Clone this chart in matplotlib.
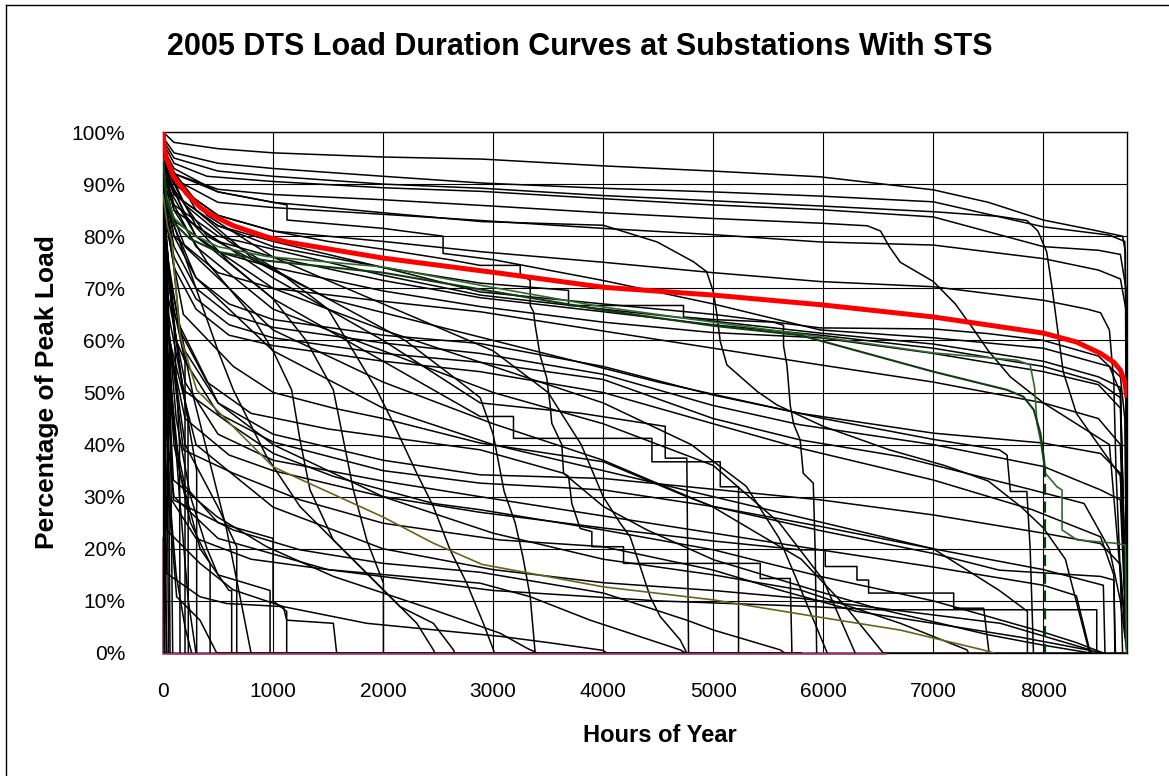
import matplotlib
matplotlib.use("Agg")
import matplotlib.pyplot as plt
from matplotlib.lines import Line2D

plt.rcParams['font.family'] = ['Liberation Sans', 'DejaVu Sans']

# ---------------- data (hours of year, % of peak load) ----------------
title_text = "2005 DTS Load Duration Curves at Substations With STS"
x_label = "Hours of Year"
y_label = "Percentage of Peak Load"
x_ticks = [0, 1000, 2000, 3000, 4000, 5000, 6000, 7000, 8000]
y_ticks = [0, 10, 20, 30, 40, 50, 60, 70, 80, 90, 100]
hours_in_year = 8760

# highlighted (average) curve
red_curve = [(0, 100), (10, 97.5), (30, 95), (94, 91.5), (215, 88.2), (340, 85.5), (430, 84.2),
             (640, 82), (950, 79.8), (1124, 78.9), (2000, 75.8), (3060, 72.9), (4000, 70.2),
             (5000, 68.7), (6000, 66.8), (7000, 64.5), (8000, 61.4), (8300, 59.7), (8520, 57.5),
             (8640, 55.8), (8700, 54.3), (8740, 52), (8760, 49)]

green_curve_1 = [(0, 95), (30, 88), (100, 83.5), (245, 80.6), (500, 78), (943, 76.1), (2000, 74.1),
                 (2882, 70.6), (4003, 66.4), (5003, 63.5), (5973, 60.7), (7000, 57.6), (7760, 56.2),
                 (7880, 55.3), (7920, 51), (7942, 44.1), (7973, 40.9), (8018, 34.5), (8124, 31.9),
                 (8170, 31.3), (8170, 23.6), (8215, 23), (8306, 21.7), (8640, 21.1), (8745, 20.7),
                 (8755, 0)]
green_curve_2 = [(0, 94), (30, 87), (100, 82.5), (245, 79.5), (500, 77), (943, 75.3), (2000, 73),
                 (2882, 69.8), (4003, 65.8), (5003, 62.8), (5790, 61), (7000, 54), (7670, 50.5),
                 (7818, 49.2), (7912, 46.7), (7973, 42.2), (8003, 37.7), (8012, 35.8)]
green_curve_2_tail = [(8012, 35.8), (8012, 0)]

olive_curve = [(0, 88), (40, 82), (80, 79), (155, 61), (306, 50.5), (640, 43.4), (1003, 35.7),
               (2000, 26.1), (2455, 21.1), (2900, 17), (4000, 12.7), (5000, 10.2), (5900, 7.1),
               (6700, 4.4), (7450, 0.6), (7550, 0)]

pink_curve = [(0, 22), (0, 0), (6560, 0)]
blue_dashed_curve = [(12, 84), (12, 0)]

# substation curves (black)
c01 = [(0, 100), (100, 98), (500, 96.8), (1000, 96), (2000, 95.2), (2900, 94.8), (4000, 93.5),
       (5000, 92.5), (5970, 91.4), (7000, 88.9), (7500, 86.5), (8000, 83.1), (8450, 81.2),
       (8720, 80), (8745, 77), (8760, 0)]
c02 = [(0, 99), (100, 96), (500, 94), (1000, 93), (2000, 91.5), (2900, 90.2), (4000, 89.2),
       (5000, 88.5), (5970, 87.7), (7000, 86.6), (8000, 81.8), (8600, 80.2), (8740, 79),
       (8755, 60), (8760, 0)]
c03 = [(0, 98.5), (100, 95), (500, 92.5), (1000, 91.5), (2000, 90), (2900, 89.2), (4000, 87.8),
       (5000, 86.8), (5970, 85.8), (7000, 84.7), (7600, 83.8), (7850, 83), (7950, 81),
       (8030, 77), (8080, 70), (8130, 62), (8180, 54), (8300, 46), (8500, 40), (8700, 34),
       (8760, 0)]
c04 = [(0, 98), (100, 94), (400, 91.5), (1000, 90.5), (2000, 89.3), (2900, 88.6), (4000, 87.2),
       (5000, 86), (5970, 85.1), (7000, 83.7), (8000, 78), (8500, 77.3), (8700, 76.5),
       (8750, 70), (8760, 0)]
c05 = [(0, 97), (100, 92), (500, 89), (1000, 88), (2000, 87), (2900, 85.9), (4000, 84.5),
       (5000, 83.4), (5970, 82.5), (6400, 82), (6520, 81), (6600, 78), (6700, 75), (7000, 71.3),
       (7200, 67), (7370, 62), (7500, 58), (7700, 53), (8000, 48), (8300, 44), (8600, 40),
       (8760, 0)]
c06 = [(0, 96.5), (100, 91), (500, 86.5), (1000, 85.5), (2000, 84.2), (2900, 83), (4000, 81.5),
       (5000, 80.3), (5970, 78.9), (7000, 78.3), (8000, 75.7), (8500, 73.5), (8700, 71.8),
       (8750, 66), (8760, 0)]
c07 = [(0, 97), (100, 93), (500, 88.5), (1000, 86.5), (2000, 84.5), (2900, 82.8), (4000, 82.1),
       (4490, 78.9), (4820, 75.1), (4940, 73.2), (5000, 69.4), (5030, 65.5), (5064, 59.8),
       (5124, 55.3), (5400, 50.2), (5580, 47.6), (6000, 43.5), (6600, 39), (7100, 36),
       (7500, 33), (7800, 28), (8000, 24), (8200, 18), (8420, 0)]
c08 = [(0, 95), (100, 90), (500, 84), (1000, 81), (2000, 79), (2900, 77), (4000, 75), (5000, 73),
       (5970, 71.3), (7000, 70.3), (8000, 67.7), (8400, 66), (8520, 65.3), (8600, 62),
       (8640, 52), (8660, 35), (8700, 15), (8720, 0)]
c09 = [(0, 96), (100, 90), (500, 84), (1000, 81), (1500, 79), (2000, 77.5), (2600, 75.5),
       (2882, 74.4), (3246, 74.4), (3246, 72.8), (3337, 71.5), (3337, 66.7), (3367, 65.5),
       (3382, 62.9), (3427, 57.1), (3488, 52.7), (3518, 47.5), (3533, 44.1), (3624, 40),
       (3640, 34.5), (3685, 33.9), (3715, 28.7), (3791, 23.9), (3897, 23.3), (3897, 20.4),
       (4185, 20.4), (4185, 17.2), (5427, 17.2), (5427, 14.3), (5700, 14.3), (5715, 0)]
c10 = [(0, 93), (100, 88), (500, 82), (1000, 78), (2000, 74), (2882, 71), (3685, 69.6),
       (3685, 66.7), (4730, 66.7), (4730, 64.5), (5000, 64), (5548, 63.5), (5639, 62.9),
       (5639, 59), (5670, 55.2), (5700, 47.5), (5730, 44), (5790, 40.9), (5818, 34.5),
       (5909, 32.6), (5927, 19.2), (5940, 0)]
c11 = [(0, 95), (100, 88), (500, 82), (1000, 79), (2000, 74), (2882, 69.3), (4000, 67),
       (5000, 65), (5973, 62.4), (7000, 62.2), (7500, 61.3), (8000, 60), (8500, 57),
       (8700, 53), (8740, 45), (8760, 0)]
c12 = [(0, 94), (100, 86), (500, 80), (1000, 77.5), (2000, 72.5), (2882, 68.7), (4000, 66),
       (5000, 63.7), (5973, 61.4), (7000, 59.3), (8000, 56), (8500, 53), (8700, 51), (8760, 0)]
c13 = [(0, 93), (100, 85), (500, 79), (1000, 76), (2000, 71.5), (2882, 68.2), (4000, 65.5),
       (5000, 63), (5973, 61), (7000, 58.5), (8000, 55), (8500, 52), (8700, 49), (8760, 0)]
c14 = [(0, 92), (100, 83), (500, 77), (1000, 74), (2000, 69.5), (2882, 66.5), (4000, 63.5),
       (5000, 61.5), (5973, 60.5), (7000, 57.5), (8000, 54), (8500, 51.5), (8700, 47), (8760, 0)]
c15 = [(0, 91), (100, 80), (500, 73), (1000, 70), (2000, 67.5), (2882, 65.5), (4000, 61.8),
       (5000, 58.5), (5973, 55.3), (7000, 52), (8000, 48), (8500, 45), (8700, 40), (8760, 0)]
c16 = [(0, 90), (100, 80), (300, 72), (600, 67), (1000, 64), (2000, 61), (2882, 59.4),
       (4000, 55), (5000, 49.5), (5791, 46), (7000, 42.2), (8000, 40.3), (8520, 38.3),
       (8700, 34.5), (8760, 0)]
c17 = [(0, 89), (100, 78), (300, 70), (600, 65), (1000, 62.5), (2000, 59.5), (2882, 57.5),
       (4000, 53.5), (5000, 47.5), (5791, 43.8), (7000, 40), (8000, 35.8), (8520, 31.3),
       (8700, 29.4), (8760, 0)]
c18 = [(0, 88), (100, 76), (300, 68), (600, 63), (1000, 60.5), (2000, 57.5), (2882, 55.8),
       (4000, 52.5), (5000, 45), (5791, 40.9), (6700, 37.7), (7300, 34.5), (7900, 31.3),
       (8370, 28.7), (8600, 20), (8700, 10), (8760, 0)]
c19 = [(0, 87), (100, 74), (300, 66), (600, 61), (1000, 59), (2000, 56), (2882, 54),
       (4000, 50), (5000, 44), (5791, 39.3), (7000, 33.2), (7900, 27.5), (8520, 22.3),
       (8640, 15), (8650, 0)]
c20 = [(0, 96), (100, 92), (500, 88.5), (1127, 86), (1127, 83.1), (2000, 81.5), (2545, 80),
       (2545, 76.7), (3000, 75.5), (4000, 71.5), (5000, 67), (5973, 62), (7000, 60.5),
       (8000, 58.5), (8600, 55), (8700, 50), (8760, 0)]
d01 = [(0, 90), (50, 80), (185, 65), (639, 55), (1003, 50), (1548, 47), (2003, 45),
       (2882, 40.3), (4003, 36.7), (4760, 30), (5003, 28.1), (5973, 23.5), (7000, 19.1),
       (7600, 15.9), (8520, 14.7), (8640, 14), (8655, 0)]
d02 = [(0, 88), (50, 75), (150, 62), (400, 52), (800, 46), (1500, 43), (2882, 39), (3640, 34.5),
       (4003, 28.1), (4400, 23.6), (5003, 17.9), (5912, 12.1), (6500, 8.5), (7000, 6),
       (7500, 3.5), (8000, 1.5), (8427, 0)]
d03 = [(0, 86), (60, 72), (200, 58), (500, 48), (1000, 42), (2000, 37), (2882, 34.2),
       (4003, 33.5), (5973, 29.4), (7000, 26.5), (8000, 23), (8520, 21), (8700, 17), (8760, 0)]
d04 = [(0, 85), (60, 70), (200, 56), (500, 46), (1000, 40.5), (2000, 35), (2882, 32.6),
       (4003, 31.3), (5003, 28.1), (5973, 24.3), (7000, 20), (8000, 16), (8545, 13), (8560, 0)]
d05 = [(0, 84), (50, 68), (200, 52), (500, 42), (1000, 37), (2000, 33), (2882, 30),
       (5973, 19.8), (7000, 16.5), (8000, 13), (8300, 11), (8427, 0)]
d06 = [(0, 82), (50, 65), (185, 50.5), (639, 43.5), (1003, 38.3), (1548, 33.9), (2003, 31.3),
       (2457, 28.7), (2882, 27.5), (4003, 23.6), (5003, 19.8), (5973, 14.7), (7000, 10),
       (7500, 7), (8000, 4), (8300, 2), (8545, 0)]
d07 = [(0, 81), (50, 62), (185, 39), (639, 34.5), (1245, 29.4), (2003, 24.9), (3063, 21.7),
       (4003, 20.4), (5003, 15.9), (5600, 12.1), (6300, 8), (7000, 5.7), (7800, 3), (8550, 0)]
d08 = [(0, 80), (30, 60), (94, 33.2), (488, 26.2), (942, 20.4), (1548, 14.7), (2457, 8.3),
       (3063, 3.8), (3300, 1), (3400, 0)]
d09 = [(0, 79), (30, 55), (94, 29.4), (639, 23.6), (1245, 19.8), (2003, 17.2), (2882, 15.5),
       (4003, 11.5), (4760, 6.3), (5003, 4.4), (5609, 0.6), (5650, 0)]
d10 = [(0, 75), (15, 50), (33, 23.6), (336, 17.2), (639, 12.1), (1094, 8.9), (1851, 5.7),
       (3063, 3.2), (3500, 2), (4000, 0.5), (4033, 0)]
d11 = [(0, 78), (20, 50), (60, 30), (300, 22), (800, 18), (1500, 16), (2882, 13.4),
       (3337, 10.8), (3882, 6.3), (4700, 0.6), (4750, 0)]
d12 = [(0, 70), (10, 40), (33, 15.3), (336, 10.8), (578, 9.5), (1094, 8.9), (1124, 6.3),
       (1548, 5.7), (1578, 0)]
d13 = [(0, 72), (10, 40), (124, 10.8), (336, 6.3), (488, 0), (5800, 0)]
d14 = [(0, 92), (100, 82), (300, 70), (500, 58), (639, 50.5), (790, 44.1), (942, 37.7),
       (1245, 28.1), (1548, 21.7), (2003, 12.1), (2306, 5.7), (2457, 0.6), (2470, 0)]
d15 = [(0, 93), (100, 85), (400, 75), (800, 65), (1000, 58), (1169, 50.5), (1245, 40.9),
       (1336, 31.3), (1548, 21.7), (1851, 15.3), (2154, 8.9), (2457, 5.7), (2639, 0.6), (2650, 0)]
d16 = [(0, 94), (200, 84), (600, 75), (1000, 68), (1300, 60), (1548, 50.5), (1609, 44.1),
       (1730, 31.3), (1851, 21.7), (2003, 13.4), (2003, 0)]
d17 = [(0, 95), (200, 86), (600, 79), (1000, 74), (1500, 66), (1942, 50.5), (2093, 44.1),
       (2306, 34.5), (2457, 28.1), (2609, 19.8), (2760, 13.4), (2911, 5.7), (3003, 0.6), (3010, 0)]
d18 = [(0, 96), (300, 85), (800, 76), (1500, 68), (2200, 60), (2700, 52), (2882, 49),
       (3000, 42), (3100, 31), (3200, 25), (3270, 18.5), (3337, 10.8), (3382, 0)]
d19 = [(0, 95), (400, 84), (1000, 76), (2000, 67), (3000, 58), (3500, 50), (3800, 40),
       (4000, 30), (4155, 24.9), (4245, 22.3), (4336, 16.6), (4427, 10.8), (4518, 7),
       (4700, 2.5), (4760, 0)]
d20 = [(0, 94), (300, 82), (1000, 72), (2000, 60), (2882, 48), (3800, 46), (4564, 43.5),
       (4564, 37.4), (4760, 37.4), (4776, 0)]
d21 = [(0, 93), (300, 80), (1000, 68), (2000, 56), (2882, 45.4), (3185, 45.4), (3185, 41.2),
       (4443, 41.2), (4443, 36.7), (5064, 36.7), (5064, 31.9), (5230, 31.9), (5230, 0)]
d22 = [(0, 80), (50, 60), (200, 45), (600, 38), (1000, 35), (2000, 30), (2882, 27), (4000, 24),
       (5000, 21.5), (5791, 19.8), (6018, 19.8), (6018, 16.6), (6306, 16.6), (6306, 14),
       (6412, 14), (6412, 11.5), (7185, 11.5), (7185, 8.6), (7458, 8.6), (7503, 0.6), (7510, 0)]
d23 = [(0, 91), (300, 80), (1000, 70), (2000, 62), (3000, 55), (4000, 48), (4800, 40),
       (5300, 32), (5600, 22), (5800, 12), (6036, 0)]
d24 = [(0, 90), (300, 78), (1000, 66), (2000, 58), (3000, 50), (4000, 44), (5000, 36),
       (5600, 25), (6000, 14), (6290, 0)]
d25 = [(0, 89), (200, 78), (1000, 62), (2000, 52), (3000, 44), (4000, 37), (5000, 28),
       (5800, 18), (6200, 9), (6545, 0), (8760, 0)]
d26 = [(0, 85), (100, 65), (500, 48), (1000, 40), (2000, 30), (3000, 23), (4000, 18),
       (5000, 15), (5791, 12.1), (6700, 5.7), (7306, 0.6), (7320, 0)]
d27 = [(0, 87), (300, 72), (1000, 58), (2000, 47), (3000, 40), (4000, 35), (5000, 30),
       (6000, 25), (7000, 20), (7600, 12), (7855, 8), (7855, 0)]
d28 = [(0, 83), (60, 60), (300, 40), (1000, 28), (2000, 20), (3000, 16), (4000, 13.5),
       (5000, 12), (5791, 10.5), (7609, 5.7), (8427, 0.6), (8440, 0)]
d29 = [(0, 75), (20, 45), (100, 30), (500, 22), (1500, 16), (3000, 12), (4500, 10),
       (5800, 9), (6500, 8.3), (8485, 8.3), (8485, 0)]
d30 = [(0, 92), (400, 80), (1500, 68), (3000, 60), (4500, 52), (6000, 45), (7000, 41),
       (7600, 39), (7670, 38), (7700, 31), (7850, 31), (7880, 20), (7910, 0)]
v01 = [(0, 97), (5, 60), (10, 20), (15, 0)]
v02 = [(0, 95), (10, 70), (20, 40), (30, 0)]
v03 = [(0, 93), (15, 75), (35, 50), (50, 0)]
v04 = [(0, 92), (20, 78), (45, 55), (64, 0)]
v05 = [(0, 90), (25, 80), (60, 60), (88, 0)]
v06 = [(0, 91), (40, 75), (100, 62), (150, 40), (155, 0)]
v07 = [(0, 89), (50, 74), (120, 60), (200, 56), (200, 0)]
v08 = [(0, 88), (60, 70), (150, 55), (227, 45), (230, 0)]
v09 = [(0, 87), (80, 66), (200, 48), (306, 35), (306, 0)]
v10 = [(0, 86), (64, 81.2), (155, 62), (276, 49.2), (428, 36.4), (579, 23.6), (730, 7.6), (800, 0)]
v12 = [(0, 84), (30, 60), (100, 40), (250, 25), (428, 17.2), (428, 0)]
v13 = [(0, 83), (40, 58), (150, 35), (337, 20), (600, 12), (624, 12), (624, 0)]
v14 = [(0, 85), (50, 62), (200, 40), (500, 28), (670, 20.4), (670, 0)]
v15 = [(0, 82), (20, 55), (60, 30), (120, 15), (200, 5), (260, 0)]
v16 = [(0, 80), (10, 40), (20, 15), (35, 0)]
v17 = [(0, 78), (5, 30), (12, 0)]
v18 = [(0, 86), (30, 70), (80, 50), (150, 30), (230, 10), (300, 0)]
v19 = [(0, 84), (40, 65), (120, 45), (250, 30), (400, 20), (500, 15), (973, 12), (973, 0)]
v20 = [(0, 83), (30, 62), (100, 42), (200, 32), (500, 25), (1000, 22), (1000, 10), (1124, 8),
       (1124, 0)]

black_curves = [c01, c02, c03, c04, c05, c06, c07, c08, c09, c10, c11, c12, c13, c14, c15,
                c16, c17, c18, c19, c20, d01, d02, d03, d04, d05, d06, d07, d08, d09, d10,
                d11, d12, d13, d14, d15, d16, d17, d18, d19, d20, d21, d22, d23, d24, d25,
                d26, d27, d28, d29, d30, v01, v02, v03, v04, v05, v06, v07, v08, v09, v10,
                v12, v13, v14, v15, v16, v17, v18, v19, v20]


def xs(curve):
    return [p[0] for p in curve]


def ys(curve):
    return [p[1] for p in curve]


# ---------------- figure ----------------
W, H = 1169, 776
fig = plt.figure(figsize=(W / 100, H / 100), dpi=100)
fig.patch.set_facecolor('white')

left, right, top, bottom = 163, 1127, 132, 653
ax = fig.add_axes([left / W, 1 - bottom / H, (right - left) / W, (bottom - top) / H])

ax.set_xlim(0, hours_in_year)
ax.set_ylim(0, 100)
ax.set_xticks(x_ticks)
ax.set_yticks(y_ticks)
ax.set_yticklabels([f"{v}%" for v in y_ticks])
ax.tick_params(axis='both', length=0, labelsize=15, colors='black')
ax.tick_params(axis='y', pad=27)
ax.tick_params(axis='x', pad=21)
ax.grid(True, color='black', linewidth=0.8, zorder=0)
ax.set_axisbelow(True)
for s in ax.spines.values():
    s.set_color('black')
    s.set_linewidth(1.0)

# curves
ax.plot(xs(pink_curve), ys(pink_curve), color='#993366', lw=1.8, zorder=2.6, clip_on=False)
ax.plot(xs(blue_dashed_curve), ys(blue_dashed_curve), color='#7777cc', lw=1.2,
        dashes=(4, 3), zorder=2.7)
for c in black_curves:
    ax.plot(xs(c), ys(c), color='black', lw=1.1, zorder=3)
ax.plot(xs(olive_curve), ys(olive_curve), color='#66661a', lw=1.2, zorder=4)
ax.plot(xs(green_curve_1), ys(green_curve_1), color='#2f6b2f', lw=1.2, zorder=4)
ax.plot(xs(green_curve_2), ys(green_curve_2), color='#0d3d0d', lw=1.5, zorder=4)
ax.plot(xs(green_curve_2_tail), ys(green_curve_2_tail), color='#0d3d0d', lw=1.6,
        dashes=(5, 3), zorder=4)
ax.plot(xs(red_curve), ys(red_curve), color='#ff0000', lw=3.6, zorder=5,
        solid_capstyle='butt', solid_joinstyle='round')

# texts
fig.text(580 / W, 1 - 47 / H, title_text, ha='center', va='center',
         fontsize=22, fontweight='bold')
fig.text(660 / W, 1 - 736 / H, x_label, ha='center', va='center',
         fontsize=17, fontweight='bold')
fig.text(47 / W, 1 - 392 / H, y_label, ha='center', va='center', rotation=90,
         fontsize=19, fontweight='bold')

# chart-area frame (visible left and top edges)
fig.add_artist(Line2D([6 / W, 6 / W], [0, 1 - 5 / H], transform=fig.transFigure,
                      color='black', lw=1.0))
fig.add_artist(Line2D([6 / W, 1], [1 - 5 / H, 1 - 5 / H], transform=fig.transFigure,
                      color='black', lw=1.0))

fig.savefig('out.png', dpi=100, facecolor='white')
